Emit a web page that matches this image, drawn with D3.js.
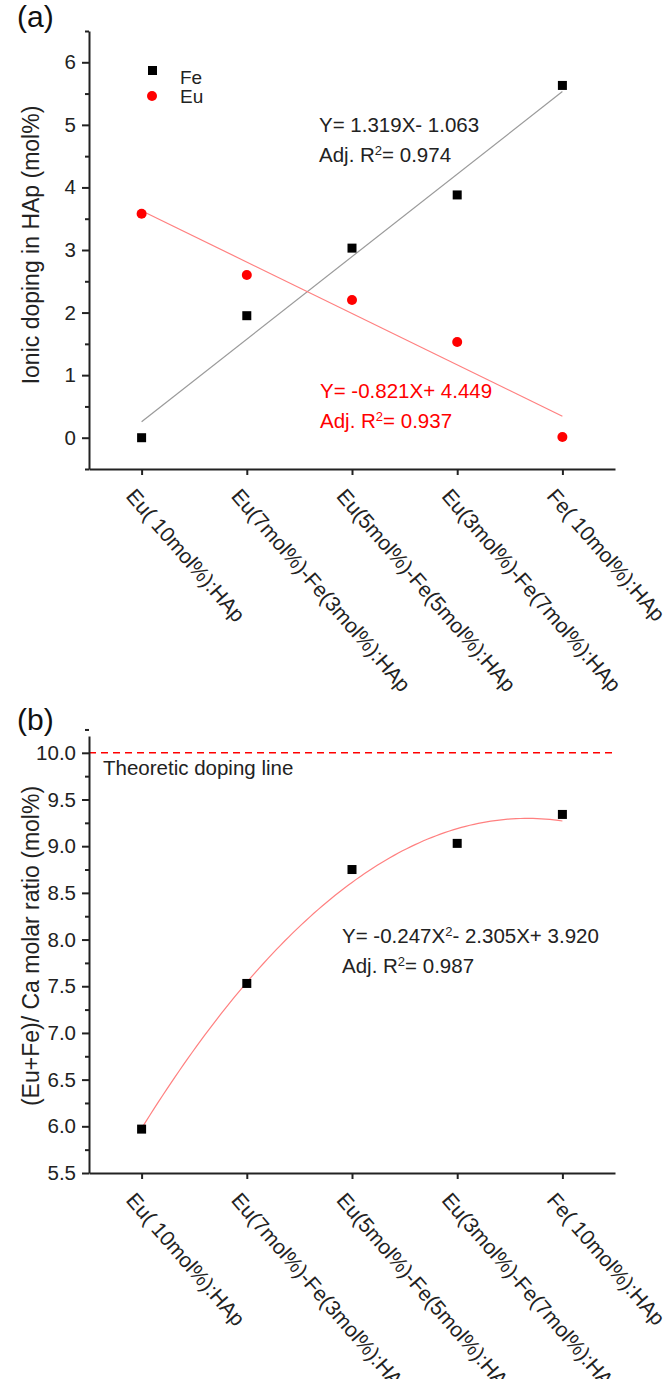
<!DOCTYPE html>
<html>
<head>
<meta charset="utf-8">
<script src="https://cdn.jsdelivr.net/npm/d3@7"></script>
<style>
  body { margin: 0; background: #fff; }
  svg { display: block; font-family: "Liberation Sans", Arial, sans-serif; }
  .axis path, .axis line { stroke: #222; stroke-width: 2; }
  .axis text { fill: #222; font-size: 20.5px; font-family: "Liberation Sans", Arial, sans-serif; }
</style>
</head>
<body>
<svg id="chart" width="666" height="1379"></svg>
<script>
// ---------- data ----------
const categories = [
  "Eu( 10mol%):HAp",
  "Eu(7mol%)-Fe(3mol%):HAp",
  "Eu(5mol%)-Fe(5mol%):HAp",
  "Eu(3mol%)-Fe(7mol%):HAp",
  "Fe( 10mol%):HAp"
];
const feValues = [0.00, 1.95, 3.03, 3.88, 5.63];
const euValues = [3.58, 2.60, 2.20, 1.53, 0.01];
const ratioValues = [5.97, 7.53, 8.75, 9.03, 9.34];
const feFit = [1.319, -1.063];          // slope, intercept
const euFit = [-0.821, 4.449];
const ratioFit = [-0.247, 2.305, 3.920]; // a, b, c
const yTicksA = [0, 1, 2, 3, 4, 5, 6];
const yMinorA = [-0.5, 0.5, 1.5, 2.5, 3.5, 4.5, 5.5, 6.5];
const yTicksB = [5.5, 6.0, 6.5, 7.0, 7.5, 8.0, 8.5, 9.0, 9.5, 10.0];
const yMinorB = [5.75, 6.25, 6.75, 7.25, 7.75, 8.25, 8.75, 9.25, 9.75, 10.25];
const theoreticLevel = 10.0;

const svg = d3.select("#chart");
const font = "'Liberation Sans', Arial, sans-serif";
const FS = 20.5;
const L = 89, R = 615;

const x = d3.scaleLinear().domain([0.5, 5.5]).range([L, R]);
const xIdx = categories.map((d, i) => i + 1);

function drawXAxis(g, yPos) {
  g.append("g").attr("class", "axis").attr("transform", `translate(0,${yPos})`)
    .call(d3.axisBottom(x).tickValues(xIdx).tickSize(6).tickSizeOuter(0).tickFormat(""));
  const labels = g.append("g");
  xIdx.forEach((v, i) => {
    labels.append("text")
      .attr("transform", `translate(${x(v) - 11},${yPos + 23}) rotate(49)`)
      .attr("font-size", 21)
      .attr("font-family", font)
      .attr("fill", "#222")
      .attr("text-anchor", "start")
      .attr("dy", "0.35em")
      .text(categories[i]);
  });
}

function drawYAxis(g, y, ticks, minor, fmt) {
  g.append("g").attr("class", "axis").attr("transform", `translate(${L},0)`)
    .call(d3.axisLeft(y).tickValues(minor).tickSize(4).tickSizeOuter(0).tickFormat(""))
    .select(".domain").remove();
  g.append("g").attr("class", "axis").attr("transform", `translate(${L},0)`)
    .call(d3.axisLeft(y).tickValues(ticks).tickSize(7).tickSizeOuter(0).tickPadding(6).tickFormat(fmt));
}

function eqText(g, xp, yp, color, parts) {
  const t = g.append("text").attr("x", xp).attr("y", yp).attr("font-size", FS)
    .attr("font-family", font).attr("fill", color);
  parts.forEach(p => {
    const s = t.append("tspan").text(p.t);
    if (p.sup) s.attr("baseline-shift", "super").attr("font-size", 13);
  });
}

// ---------- panel (a) ----------
{
  const top = 31, bottom = 469;
  const y = d3.scaleLinear().domain([-0.5, 6.5]).range([bottom, top]);
  const g = svg.append("g");
  drawYAxis(g, y, yTicksA, yMinorA, d3.format("d"));
  drawXAxis(g, bottom);

  // fit lines
  const lineGen = d3.line().x(d => x(d[0])).y(d => y(d[1]));
  g.append("path").datum([1, 5].map(v => [v, feFit[0] * v + feFit[1]]))
    .attr("d", lineGen).attr("fill", "none").attr("stroke", "#9a9a9a").attr("stroke-width", 1.2);
  g.append("path").datum([1, 5].map(v => [v, euFit[0] * v + euFit[1]]))
    .attr("d", lineGen).attr("fill", "none").attr("stroke", "#ff8080").attr("stroke-width", 1.2);

  // points
  g.selectAll(".fe").data(feValues).enter().append("rect")
    .attr("x", (d, i) => x(i + 1) - 4.5).attr("y", d => y(d) - 4.5)
    .attr("width", 9).attr("height", 9).attr("fill", "#000");
  g.selectAll(".eu").data(euValues).enter().append("circle")
    .attr("cx", (d, i) => x(i + 1)).attr("cy", d => y(d)).attr("r", 5).attr("fill", "#ff0000");

  // legend
  g.append("rect").attr("x", 148).attr("y", 66).attr("width", 9).attr("height", 9).attr("fill", "#000");
  g.append("text").attr("x", 180).attr("y", 84).attr("font-size", 19).attr("font-family", font).attr("fill", "#222").text("Fe");
  g.append("circle").attr("cx", 152).attr("cy", 96).attr("r", 5).attr("fill", "#ff0000");
  g.append("text").attr("x", 180).attr("y", 103).attr("font-size", 19).attr("font-family", font).attr("fill", "#222").text("Eu");

  // equations
  eqText(g, 319, 132, "#222", [{t: "Y= 1.319X- 1.063"}]);
  eqText(g, 319, 162, "#222", [{t: "Adj. R"}, {t: "2", sup: true}, {t: "= 0.974"}]);
  eqText(g, 320, 398, "#ff0000", [{t: "Y= -0.821X+ 4.449"}]);
  eqText(g, 320, 428, "#ff0000", [{t: "Adj. R"}, {t: "2", sup: true}, {t: "= 0.937"}]);

  g.append("text").attr("transform", `translate(39,245) rotate(-90)`)
    .attr("text-anchor", "middle").attr("font-size", 23).attr("font-family", font).attr("fill", "#222")
    .text("Ionic doping in HAp (mol%)");
  g.append("text").attr("x", 17).attr("y", 27).attr("font-size", 30).attr("font-family", font).attr("fill", "#111").text("(a)");
}

// ---------- panel (b) ----------
{
  const top = 736, bottom = 1173;
  const y = d3.scaleLinear().domain([5.5, 10.18]).range([bottom, top]);
  const g = svg.append("g");

  // theoretic line
  g.append("line").attr("x1", L).attr("x2", R).attr("y1", y(theoreticLevel)).attr("y2", y(theoreticLevel))
    .attr("stroke", "#ff0000").attr("stroke-width", 1.5).attr("stroke-dasharray", "7,5");
  g.append("text").attr("x", 103).attr("y", y(theoreticLevel) + 22).attr("font-size", FS)
    .attr("font-family", font).attr("fill", "#222").text("Theoretic doping line");

  drawYAxis(g, y, yTicksB, yMinorB, d3.format(".1f"));
  drawXAxis(g, bottom);

  // quadratic fit curve
  const curvePts = d3.range(0, 101).map(k => {
    const v = 1 + 4 * k / 100;
    return [v, ratioFit[0] * v * v + ratioFit[1] * v + ratioFit[2]];
  });
  g.append("path").datum(curvePts)
    .attr("d", d3.line().x(d => x(d[0])).y(d => y(d[1])))
    .attr("fill", "none").attr("stroke", "#ff8080").attr("stroke-width", 1.2);

  g.selectAll(".pt").data(ratioValues).enter().append("rect")
    .attr("x", (d, i) => x(i + 1) - 4.5).attr("y", d => y(d) - 4.5)
    .attr("width", 9).attr("height", 9).attr("fill", "#000");

  eqText(g, 342, 943, "#222", [{t: "Y= -0.247X"}, {t: "2", sup: true}, {t: "- 2.305X+ 3.920"}]);
  eqText(g, 342, 973, "#222", [{t: "Adj. R"}, {t: "2", sup: true}, {t: "= 0.987"}]);

  g.append("text").attr("transform", `translate(39,946) rotate(-90)`)
    .attr("text-anchor", "middle").attr("font-size", 23).attr("font-family", font).attr("fill", "#222")
    .text("(Eu+Fe)/ Ca molar ratio (mol%)");
  g.append("text").attr("x", 17).attr("y", 730).attr("font-size", 30).attr("font-family", font).attr("fill", "#111").text("(b)");
}
</script>
</body>
</html>
